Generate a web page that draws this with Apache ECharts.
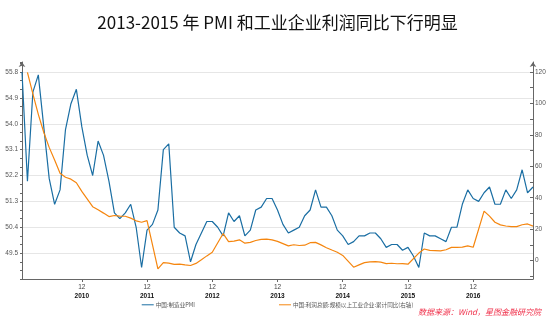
<!DOCTYPE html>
<html><head><meta charset="utf-8">
<script src="https://cdn.jsdelivr.net/npm/echarts@6/dist/echarts.min.js"></script>
<style>html,body{margin:0;padding:0;background:#fff}#c{width:555px;height:326px}</style>
</head><body><div id="c"></div>
<script>
var titleText = '2013-2015 年 PMI 和工业企业利润同比下行明显';
var sourceText = '数据来源：Wind，星图金融研究院';
var seriesNames = ['中国:制造业PMI', '中国:利润总额:规模以上工业企业:累计同比(右轴)'];
var startYear = 2010, endYear = 2017, endMonth = 11;
var leftTicks = [49.5, 50.4, 51.3, 52.2, 53.1, 54.0, 54.9, 55.8];
var rightTicks = [0, 20, 40, 60, 80, 100, 120];
var pmi = [
  55.8, 52.0, 55.1, 55.7, 53.9, 52.1, 51.2, 51.7, 53.8, 54.7, 55.2, 53.9,
  52.9, 52.2, 53.4, 52.9, 52.0, 50.9, 50.7, 50.9, 51.2, 50.4, 49.0, 50.3,
  50.5, 51.0, 53.1, 53.3, 50.4, 50.2, 50.1, 49.2, 49.8, 50.2, 50.6, 50.6,
  50.4, 50.1, 50.9, 50.6, 50.8, 50.1, 50.3, 51.0, 51.1, 51.4, 51.4, 51.0,
  50.5, 50.2, 50.3, 50.4, 50.8, 51.0, 51.7, 51.1, 51.1, 50.8, 50.3, 50.1,
  49.8, 49.9, 50.1, 50.1, 50.2, 50.2, 50.0, 49.7, 49.8, 49.8, 49.6, 49.7,
  49.4, 49.0, 50.2, 50.1, 50.1, 50.0, 49.9, 50.4, 50.4, 51.2, 51.7, 51.4,
  51.3, 51.6, 51.8, 51.2, 51.2, 51.7, 51.4, 51.7, 52.4, 51.6, 51.8
];
var profit = [
  null, 119.7, 106.0, 93.0, 81.6, 72.0, 64.0, 55.6, 53.0, 51.8, 49.5, 44.0,
  null, 34.3, 32.3, 30.2, 28.0, 28.7, 28.3, 28.2, 27.0, 25.3, 24.4, 25.4,
  null, -5.2, -1.3, -1.6, -2.4, -2.2, -2.7, -3.1, -1.8, 0.5, 3.0, 5.3,
  null, 17.2, 12.1, 12.4, 13.2, 11.1, 11.6, 12.8, 13.5, 13.7, 13.2, 12.2,
  null, 9.4, 10.1, 9.6, 9.8, 11.4, 11.6, 10.0, 8.2, 6.7, 5.3, 3.3,
  null, -4.2, -2.7, -1.3, -0.8, -0.7, -1.0, -1.9, -1.7, -2.0, -1.9, -2.3,
  null, 4.8, 7.4, 6.5, 6.4, 6.2, 6.9, 8.4, 8.4, 8.6, 9.4, 8.5,
  null, 31.5, 28.3, 24.4, 22.7, 22.0, 21.6, 21.6, 22.8, 23.3, 21.9
];

var categories = [];
for (var y = startYear; y <= endYear; y++) {
  for (var m = 1; m <= 12; m++) {
    if (y === endYear && m > endMonth) break;
    categories.push(y + '-' + (m < 10 ? '0' + m : m));
  }
}
var isDec = function (idx) { return categories[idx].slice(5) === '12'; };
var rightTickValues = [];
for (var v = -10; v <= 120; v += 10) rightTickValues.push(v);
var gridColors = [];
for (var i = 0; i < 9; i++) gridColors.push('#e6e6e6');
gridColors.push('rgba(0,0,0,0)');

var chart = echarts.init(document.getElementById('c'));
chart.setOption({
  backgroundColor: '#ffffff',
  animation: false,
  title: {
    text: titleText, left: 'center', top: 9,
    textStyle: { fontFamily: 'Noto Sans CJK SC', fontSize: 17, fontWeight: 'normal', color: '#111' }
  },
  graphic: [{
    type: 'text', right: 14, top: 308,
    style: { text: sourceText, fill: '#f0304a', fontSize: 8, fontStyle: 'italic', fontFamily: 'Noto Sans CJK SC' }
  }],
  legend: {
    top: 297, left: 'center', itemGap: 84, itemWidth: 12, itemHeight: 6,
    icon: 'path://M0,2.5 L12,2.5 L12,3.5 L0,3.5 Z',
    textStyle: { fontSize: 5.6, color: '#555', fontFamily: 'Noto Sans CJK SC', padding: [0, 0, 0, -3] },
    data: seriesNames
  },
  grid: { left: 22, right: 22, top: 62, bottom: 47 },
  xAxis: {
    type: 'category', data: categories, boundaryGap: false,
    axisLine: { onZero: false, lineStyle: { color: '#666', width: 1 } },
    axisTick: { show: true, interval: function (idx) { return isDec(idx); }, length: 3, lineStyle: { color: '#666' } },
    axisLabel: {
      interval: function (idx) { return isDec(idx); },
      margin: 4,
      formatter: function (val) { return '{m|' + val.slice(5) + '}\n{y|' + val.slice(0, 4) + '}'; },
      rich: {
        m: { fontSize: 6.5, color: '#444', lineHeight: 9 },
        y: { fontSize: 6.5, color: '#111', fontWeight: 'bold', lineHeight: 9 }
      }
    },
    splitLine: { show: false }
  },
  yAxis: [{
    type: 'value', min: 48.6, max: 56.15, interval: 0.9, position: 'left',
    axisLine: { show: true, symbol: ['none', 'arrow'], symbolSize: [5, 5], lineStyle: { color: '#666' } },
    axisTick: { show: true, length: 2, lineStyle: { color: '#666' } },
    minorTick: { show: true, splitNumber: 3, length: 2, lineStyle: { color: '#666' } },
    axisLabel: {
      showMinLabel: false, showMaxLabel: false, fontSize: 6.5, color: '#555', margin: 4,
      formatter: function (val) { return val.toFixed(1); }
    },
    splitLine: { show: true, lineStyle: { color: gridColors, width: 1 } }
  }, {
    type: 'value', min: -11.7, max: 126.3, position: 'right',
    axisLine: { show: true, symbol: ['none', 'arrow'], symbolSize: [5, 5], lineStyle: { color: '#666' } },
    axisTick: { show: true, inside: true, length: 3, customValues: rightTickValues, lineStyle: { color: '#666' } },
    axisLabel: { customValues: rightTicks, fontSize: 6.5, color: '#555', margin: 2 },
    splitLine: { show: false }
  }],
  series: [{
    name: seriesNames[0], type: 'line', yAxisIndex: 0, data: pmi,
    showSymbol: false, symbol: 'none', lineStyle: { color: '#1a6ea3', width: 1.2 }, itemStyle: { color: '#1a6ea3' }
  }, {
    name: seriesNames[1], type: 'line', yAxisIndex: 1, data: profit, connectNulls: true,
    showSymbol: false, symbol: 'none', lineStyle: { color: '#f5860f', width: 1.2 }, itemStyle: { color: '#f5860f' }
  }]
});
</script></body></html>
